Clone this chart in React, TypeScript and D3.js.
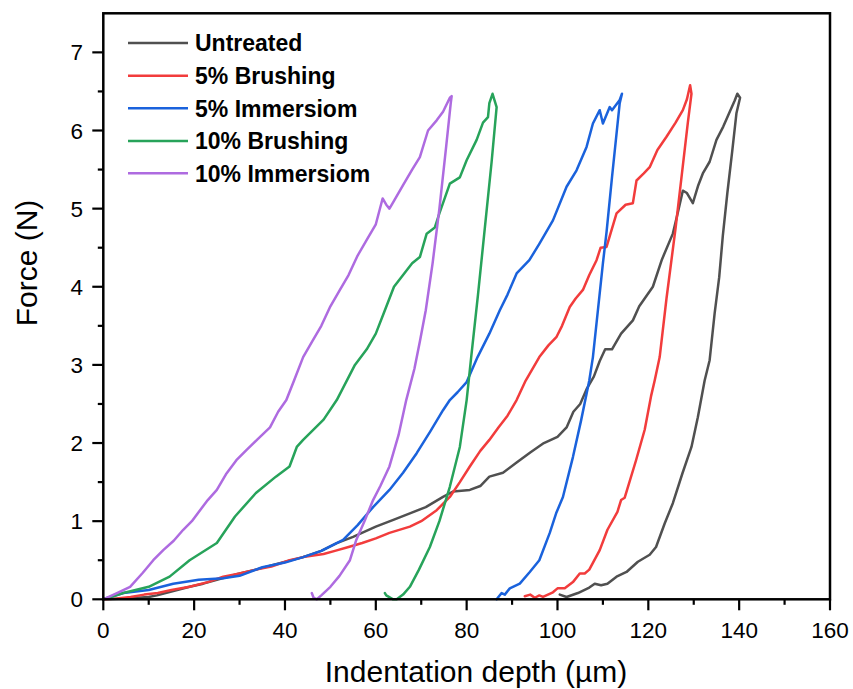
import React from "react";
import * as d3 from "d3";

const W = 853;
const H = 689;

const xTicks = [0, 20, 40, 60, 80, 100, 120, 140, 160];
const yTicks = [0, 1, 2, 3, 4, 5, 6, 7];
const xMinor = [10, 30, 50, 70, 90, 110, 130, 150];
const yMinor = [0.5, 1.5, 2.5, 3.5, 4.5, 5.5, 6.5];

const seriesNames = ["Untreated", "5% Brushing", "5% Immersiom", "10% Brushing", "10% Immersiom"];
const seriesColors = ["#505050", "#f23c3c", "#1a62dc", "#27a35a", "#ae6be0"];

const untreatedX = [0, 5, 10, 11.8, 15, 19, 22, 25, 30, 33.6, 38, 44, 48, 51.4, 55, 60, 64, 67.5, 71, 74.8, 77, 80.7, 83, 85, 88, 91, 94, 97, 100, 102, 103.5, 105, 106.5, 108, 109.3, 110.5, 112, 114, 116.6, 118, 121, 123, 125.4, 126.5, 127.6, 128.5, 129.8, 131, 132, 133.5, 135, 136.5, 138, 139, 139.6, 140.2,
  139.4, 138.5, 137.4, 136.4, 135.6, 134.6, 133.5, 132.4, 130.9, 129.5, 127.5, 125.4, 123.6, 121.7, 120.3, 117.7, 115.2, 113, 111, 109.6, 108.2, 107, 104.5, 102, 100.5];
const untreatedY = [0, 0.01, 0.03, 0.05, 0.1, 0.16, 0.2, 0.25, 0.33, 0.38, 0.45, 0.54, 0.62, 0.72, 0.8, 0.93, 1.02, 1.1, 1.18, 1.31, 1.38, 1.4, 1.45, 1.57, 1.62, 1.75, 1.88, 2.0, 2.08, 2.2, 2.4, 2.5, 2.7, 2.85, 3.05, 3.2, 3.2, 3.4, 3.57, 3.75, 4.0, 4.35, 4.68, 4.95, 5.23, 5.2, 5.07, 5.3, 5.45, 5.6, 5.88, 6.05, 6.25, 6.38, 6.47, 6.42,
  6.22, 5.75, 5.2, 4.65, 4.12, 3.66, 3.06, 2.8, 2.33, 1.95, 1.61, 1.23, 0.97, 0.67, 0.57, 0.48, 0.35, 0.29, 0.2, 0.18, 0.2, 0.15, 0.08, 0.03, 0.06];

const brush5X = [0, 3, 6, 9, 12, 15, 19, 23, 26.4, 30, 33.6, 37, 41, 44, 48.5, 51, 54, 57, 60, 63, 67.5, 70, 73.4, 76.3, 78.5, 80.7, 83, 85, 87, 89, 91, 93, 96, 98, 99.8, 101, 102.7, 104, 105.6, 107, 108.6, 109.5, 110.8, 113, 115, 116.6, 117.4, 119, 120.3, 122, 124, 126, 127.6, 128.5, 129.2,
  129.5, 128.7, 127.5, 126, 124, 122.5, 121.4, 120.6, 119.2, 117.3, 114.8, 114, 113.2, 111, 109.3, 107, 106, 104.9, 103.4, 101.6, 100, 99, 96.8, 96, 95, 94, 92.8];
const brush5Y = [0, 0.01, 0.03, 0.06, 0.08, 0.12, 0.16, 0.22, 0.29, 0.33, 0.38, 0.42, 0.5, 0.54, 0.58, 0.62, 0.67, 0.72, 0.78, 0.85, 0.93, 1.0, 1.14, 1.31, 1.5, 1.7, 1.9, 2.04, 2.2, 2.35, 2.55, 2.8, 3.1, 3.25, 3.36, 3.5, 3.74, 3.85, 3.96, 4.15, 4.34, 4.5, 4.51, 4.94, 5.05, 5.07, 5.36, 5.45, 5.53, 5.75, 5.92, 6.1, 6.26, 6.4, 6.58,
  6.47, 6.1, 5.5, 4.75, 3.85, 3.1, 2.8, 2.6, 2.17, 1.78, 1.3, 1.27, 1.12, 0.89, 0.63, 0.38, 0.33, 0.33, 0.22, 0.14, 0.14, 0.09, 0.03, 0.05, 0.02, 0.06, 0.04];

const immer5X = [0, 4.4, 10, 15.4, 21, 26.4, 30, 35, 40, 44, 48, 52.8, 56, 59.4, 63, 66, 69, 72, 74.8, 76.3, 78, 80, 82.4, 85, 87.3, 89, 91, 93.8, 96, 99, 102, 104.2, 106.4, 107.8, 109.3, 110, 111.5, 112, 113.7, 114.2,
  113.7, 112, 110.8, 110, 107.8, 107, 105.2, 103.4, 101.2, 99.7, 98.3, 96, 93.9, 91.7, 89.5, 88.4, 87.7, 86.6];
const immer5Y = [0, 0.08, 0.12, 0.2, 0.25, 0.27, 0.3, 0.41, 0.47, 0.54, 0.62, 0.76, 0.95, 1.18, 1.4, 1.62, 1.87, 2.15, 2.42, 2.55, 2.65, 2.78, 3.1, 3.4, 3.7, 3.9, 4.17, 4.34, 4.55, 4.85, 5.28, 5.49, 5.79, 6.09, 6.26, 6.09, 6.3, 6.26, 6.39, 6.47,
  6.35, 5.4, 4.7, 4.3, 3.1, 2.8, 2.29, 1.82, 1.31, 1.1, 0.85, 0.5, 0.35, 0.2, 0.14, 0.06, 0.08, 0];

const brush10X = [0, 4.4, 10, 14.6, 19, 25, 29, 33.6, 38, 41, 42.6, 44, 48.5, 51.4, 55.4, 58, 60, 62, 64, 66, 68, 69.7, 71.2, 73, 74, 76.3, 78.5, 80, 82.2, 83.6, 84.7, 85, 85.7,
  86.6, 85.5, 84, 82.5, 81, 80, 78.5, 76.3, 74, 71.9, 69.5, 67.5, 66, 64.6, 63.8, 62.3, 62];
const brush10Y = [0, 0.08, 0.16, 0.29, 0.5, 0.72, 1.06, 1.36, 1.57, 1.7, 1.95, 2.04, 2.3, 2.55, 3.0, 3.2, 3.4, 3.7, 4.0, 4.15, 4.3, 4.38, 4.68, 4.76, 4.94, 5.32, 5.4, 5.62, 5.88, 6.1, 6.17, 6.35, 6.47,
  6.3, 5.6, 4.75, 3.9, 3.1, 2.55, 1.95, 1.44, 1.0, 0.67, 0.38, 0.16, 0.06, 0.0, 0.0, 0.05, 0.08];

const immer10X = [0, 3, 5.9, 8.7, 11, 13.2, 15.5, 17.6, 19.5, 21.3, 23, 25, 27, 29.3, 31.5, 34, 36.7, 38.5, 40.3, 42, 44, 46, 48, 50, 52, 54, 56, 58, 60, 61.5, 62.3, 63, 64, 66, 68, 69.7, 71.5, 73.4, 74.8, 76.3, 76.7,
  76.5, 75.5, 74, 72.5, 71, 69.7, 68.5, 66.7, 65, 63, 61, 59.4, 57.5, 55.7, 54.3, 52, 50, 48, 47, 46.3, 45.9];
const immer10Y = [0, 0.08, 0.16, 0.34, 0.5, 0.63, 0.75, 0.89, 1.0, 1.14, 1.27, 1.4, 1.6, 1.78, 1.91, 2.05, 2.2, 2.4, 2.55, 2.8, 3.1, 3.3, 3.5, 3.75, 3.95, 4.15, 4.4, 4.6, 4.8, 5.13, 5.05, 5.0, 5.1, 5.3, 5.5, 5.66, 6.0, 6.13, 6.24, 6.42, 6.44,
  6.35, 5.8, 5.0, 4.3, 3.7, 3.3, 2.95, 2.55, 2.1, 1.7, 1.45, 1.27, 1.0, 0.76, 0.5, 0.3, 0.16, 0.05, 0.0, 0.02, 0.08];

const seriesX = [untreatedX, brush5X, immer5X, brush10X, immer10X];
const seriesY = [untreatedY, brush5Y, immer5Y, brush10Y, immer10Y];

const FONT = "Arial, 'Liberation Sans', sans-serif";

export default function App() {
  const x = d3.scaleLinear().domain([0, 160]).range([103.3, 830]);
  const y = d3.scaleLinear().domain([0, 7.5]).range([599.3, 13.3]);
  const line = d3
    .line<[number, number]>()
    .x((d) => x(d[0]))
    .y((d) => y(d[1]));

  const legendY = [43, 75.7, 108.3, 141, 173.3];

  return (
    <svg
      width={W}
      height={H}
      style={{ position: "absolute", left: 0, top: 0, background: "#fff" }}
      fontFamily={FONT}
    >
      <rect x={0} y={0} width={W} height={H} fill="#fff" />
      <g>
        {seriesX.map((xs, i) => {
          const pts = xs.map((v, j) => [v, seriesY[i][j]] as [number, number]);
          return (
            <path
              key={i}
              d={line(pts) || ""}
              fill="none"
              stroke={seriesColors[i]}
              strokeWidth={2.5}
              strokeLinejoin="round"
              strokeLinecap="round"
            />
          );
        })}
      </g>
      <rect
        x={x(0)}
        y={y(7.5)}
        width={x(160) - x(0)}
        height={y(0) - y(7.5)}
        fill="none"
        stroke="#000"
        strokeWidth={2.5}
      />
      {xTicks.map((t) => (
        <g key={"xt" + t}>
          <line x1={x(t)} x2={x(t)} y1={y(0)} y2={y(0) + 11} stroke="#000" strokeWidth={2.2} />
          <text x={x(t)} y={638} textAnchor="middle" fontSize={22.5} fill="#000">
            {t}
          </text>
        </g>
      ))}
      {xMinor.map((t) => (
        <line key={"xm" + t} x1={x(t)} x2={x(t)} y1={y(0)} y2={y(0) + 5.5} stroke="#000" strokeWidth={2.2} />
      ))}
      {yTicks.map((t) => (
        <g key={"yt" + t}>
          <line x1={x(0) - 11} x2={x(0)} y1={y(t)} y2={y(t)} stroke="#000" strokeWidth={2.2} />
          <text x={83} y={y(t) + 8} textAnchor="end" fontSize={22.5} fill="#000">
            {t}
          </text>
        </g>
      ))}
      {yMinor.map((t) => (
        <line key={"ym" + t} x1={x(0) - 5.5} x2={x(0)} y1={y(t)} y2={y(t)} stroke="#000" strokeWidth={2.2} />
      ))}
      <text x={476} y={682} textAnchor="middle" fontSize={30} fill="#000">
        Indentation depth (µm)
      </text>
      <text
        transform={`translate(37, 263) rotate(-90)`}
        textAnchor="middle"
        fontSize={30}
        fill="#000"
      >
        Force (N)
      </text>
      {seriesNames.map((n, i) => (
        <g key={"lg" + i}>
          <line x1={128} x2={188} y1={legendY[i]} y2={legendY[i]} stroke={seriesColors[i]} strokeWidth={2.5} />
          <text x={195} y={legendY[i] + 8.2} fontSize={23} fontWeight="bold" fill="#000">
            {n}
          </text>
        </g>
      ))}
    </svg>
  );
}
